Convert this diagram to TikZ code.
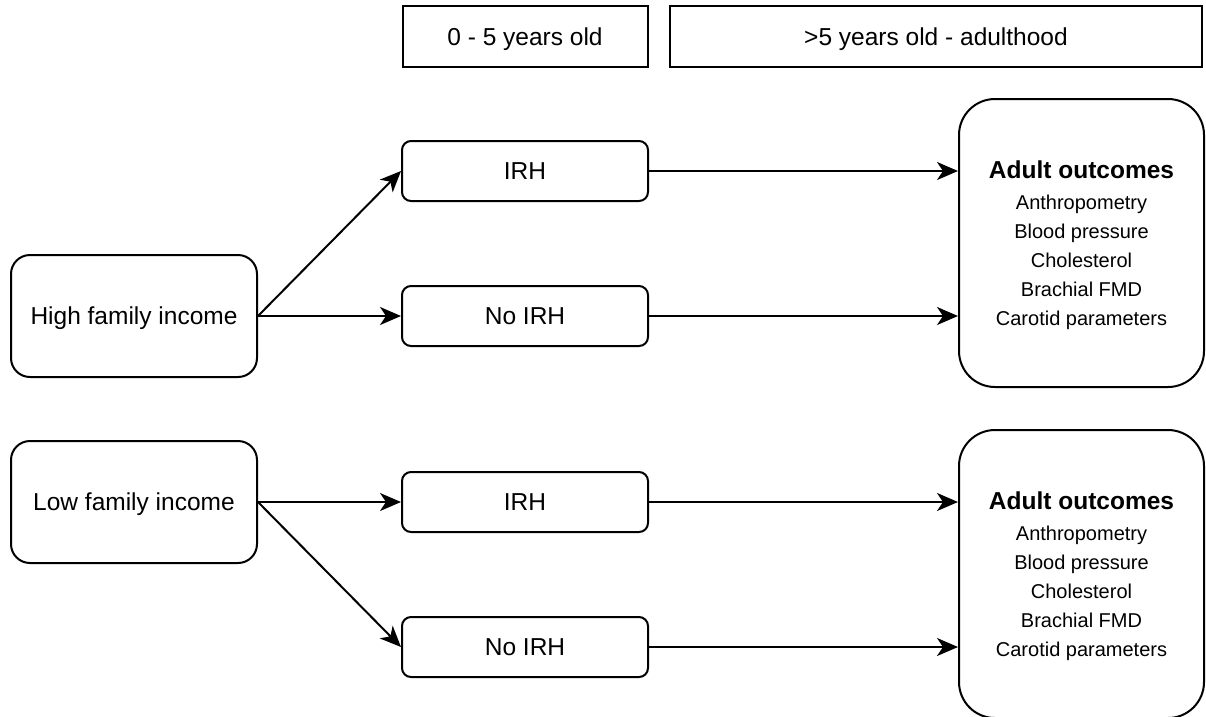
\documentclass[tikz,border=0pt]{standalone}
\usepackage{fontspec}
\setmainfont{Liberation Sans}
\usetikzlibrary{arrows.meta}
\tikzset{
  base/.style={draw=black, line width=2pt, inner sep=0pt, fill=white},
  big/.style={font=\fontsize{24.5}{29}\selectfont, text height=17.5pt, text depth=0pt},
  hdr/.style={base, big},
  smallbox/.style={base, big, rounded corners=9pt, minimum width=246pt, minimum height=60pt},
  srcbox/.style={base, big, rounded corners=19pt, minimum width=246pt, minimum height=122pt},
  outbox/.style={base, rounded corners=36pt, minimum width=245pt, minimum height=288pt, align=center, font=\fontsize{20}{29}\selectfont},
  tipk/.tip={Stealth[length=21pt, width=18pt, inset=6pt]},
  conn/.style={line width=2pt, -tipk}
}
\newcommand{\outtext}{{\fontsize{24.5}{29}\selectfont\bfseries\rule{0pt}{23pt}Adult outcomes}\\[2pt]Anthropometry\\Blood pressure\\Cholesterol\\Brachial FMD\\Carotid parameters}
\begin{document}
\begin{tikzpicture}[x=1pt,y=-1pt]
\useasboundingbox (0,0) rectangle (1206,716);
\node[hdr, minimum width=245pt, minimum height=61pt] (t1) at (525,36.5) {0 - 5 years old};
\node[hdr, minimum width=532pt, minimum height=61pt] (t2) at (936,36.5) {>5 years old - adulthood};

\node[srcbox] (hi) at (134,316) {High family income};
\node[srcbox] (lo) at (134,502) {Low family income};

\node[smallbox] (irh1) at (525,171) {IRH};
\node[smallbox] (no1) at (525,316) {No IRH};
\node[smallbox] (irh2) at (525,502) {IRH};
\node[smallbox] (no2) at (525,647) {No IRH};

\node[outbox] (ad1) at (1081.5,243) {\outtext};
\node[outbox] (ad2) at (1081.5,574) {\outtext};

\draw[conn] (hi.east) -- (irh1.west);
\draw[conn] (hi.east) -- (no1.west);
\draw[conn] (lo.east) -- (irh2.west);
\draw[conn] (lo.east) -- (no2.west);

\draw[conn] (irh1.east) -- (irh1.east -| ad1.west);
\draw[conn] (no1.east) -- (no1.east -| ad1.west);
\draw[conn] (irh2.east) -- (irh2.east -| ad2.west);
\draw[conn] (no2.east) -- (no2.east -| ad2.west);
\end{tikzpicture}
\end{document}
